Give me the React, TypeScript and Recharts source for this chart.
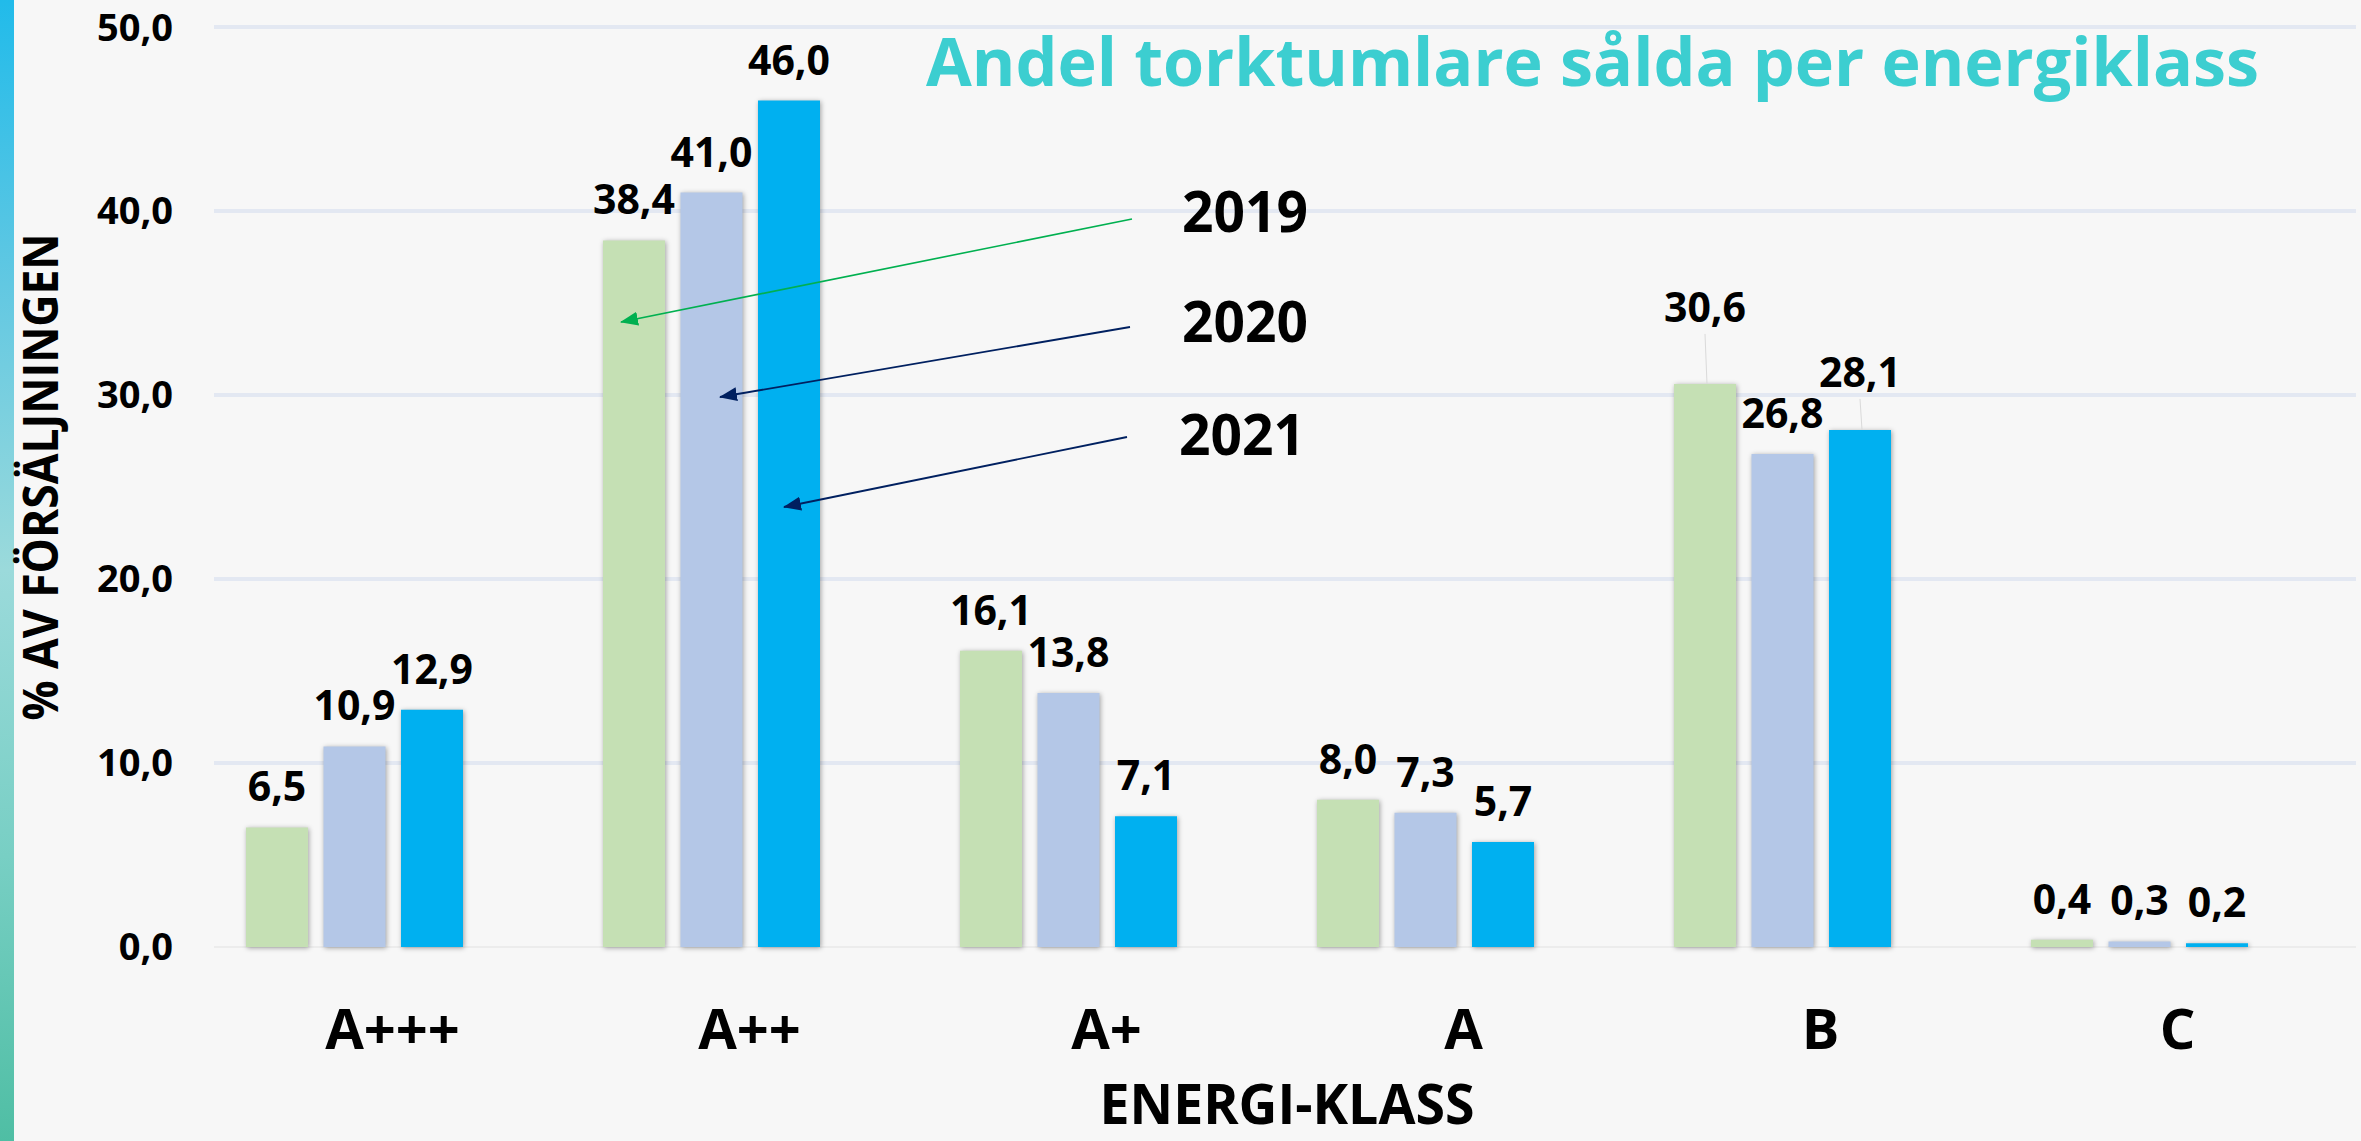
import React from 'react';
import { BarChart, Bar, XAxis, YAxis, CartesianGrid, LabelList } from 'recharts';

const categories = ['A+++', 'A++', 'A+', 'A', 'B', 'C'];
const share2019 = [6.5, 38.4, 16.1, 8.0, 30.6, 0.4];
const share2020 = [10.9, 41.0, 13.8, 7.3, 26.8, 0.3];
const share2021 = [12.9, 46.0, 7.1, 5.7, 28.1, 0.2];
const yTicks = [0, 10, 20, 30, 40, 50];
const years = ['2019', '2020', '2021'];

// labels that were dragged up in the original (with a leader line)
const labelLift: Record<string, Record<string, number>> = {
    y2019: { B: 36 },
    y2021: { B: 17 },
};

const data = categories.map((klass, i) => ({
    klass,
    y2019: share2019[i],
    y2020: share2020[i],
    y2021: share2021[i],
}));

const FONT = '"Open Sans", "Noto Sans", sans-serif';
const fmt = (v: number) => v.toFixed(1).replace('.', ',');

const seriesValues: Record<string, number[]> = { y2019: share2019, y2020: share2020, y2021: share2021 };

const makeLabel = (key: string) => (props: any) => {
    const vb = props.viewBox || {};
    const x = vb.x ?? props.x;
    const y = vb.y ?? props.y;
    const w = vb.width ?? props.width;
    const idx = seriesValues[key].indexOf(Number(props.value));
    const lift = (labelLift[key] && labelLift[key][categories[idx]]) || 0;
    const cx = x + w / 2;
    const base = y - 26 - lift;
    return (
        <g>
            {lift > 0 && <line x1={cx} y1={base + 12} x2={cx + 2} y2={y} stroke="#DADADA" strokeWidth={1} />}
            <text x={cx} y={base} textAnchor="middle" fontFamily={FONT} fontWeight={700} fontSize={41} fill="#000">
                {fmt(Number(props.value))}
            </text>
        </g>
    );
};

const ClassTick = (p: any) => (
    <text x={p.x + 38} y={p.y + 102} textAnchor="middle" fontFamily={FONT} fontWeight={700} fontSize={56} fill="#000">
        {p.payload.value}
    </text>
);

const gridLine = (p: any) => (
    <line
        key={p.key}
        x1={p.x1}
        x2={p.x2}
        y1={p.y1}
        y2={p.y2}
        stroke={p.y1 > 900 ? '#ECECEC' : '#E3E8F2'}
        strokeWidth={p.y1 > 900 ? 2 : 4}
    />
);

export default function App() {
    return (
        <div style={{ position: 'relative', width: 2361, height: 1141, background: '#F7F7F7', overflow: 'hidden' }}>
            <style>{`
                body { margin: 0; }
                .recharts-bar-rectangle .recharts-rectangle { filter: drop-shadow(1px 1px 2.5px rgba(0,0,0,0.35)); }
            `}</style>

            {/* coloured strip on the left edge */}
            <div
                style={{
                    position: 'absolute', left: 0, top: 0, width: 14, height: 1141,
                    background: 'linear-gradient(to bottom, #21BBEA 0%, #62C8E2 25%, #9BDADB 50%, #78CFC4 75%, #4FBEA4 100%)',
                }}
            />

            <BarChart
                width={2361}
                height={1141}
                data={data}
                margin={{ top: 27, right: 5, bottom: 44, left: 154 }}
                barSize={62}
                barGap={15.5}
            >
                <CartesianGrid vertical={false} horizontal={gridLine} />
                <XAxis
                    dataKey="klass"
                    height={150}
                    padding={{ left: -38, right: 38 }}
                    axisLine={false}
                    tickLine={false}
                    tickSize={0}
                    tickMargin={0}
                    interval={0}
                    tick={<ClassTick />}
                />
                <YAxis
                    width={60}
                    domain={[0, 50]}
                    ticks={yTicks}
                    interval={0}
                    axisLine={false}
                    tickLine={false}
                    tickSize={0}
                    tickMargin={41}
                    tickFormatter={fmt}
                    tick={{ fontSize: 38, fontWeight: 700, fill: '#000', fontFamily: FONT }}
                />
                <Bar dataKey="y2019" fill="#C5E0B4" isAnimationActive={false}>
                    <LabelList dataKey="y2019" content={makeLabel('y2019')} />
                </Bar>
                <Bar dataKey="y2020" fill="#B4C7E7" isAnimationActive={false}>
                    <LabelList dataKey="y2020" content={makeLabel('y2020')} />
                </Bar>
                <Bar dataKey="y2021" fill="#00B0F0" isAnimationActive={false}>
                    <LabelList dataKey="y2021" content={makeLabel('y2021')} />
                </Bar>
            </BarChart>

            {/* titles and the year annotations */}
            <svg width={2361} height={1141} style={{ position: 'absolute', left: 0, top: 0, pointerEvents: 'none' }}>
                <defs>
                    <marker id="headGreen" markerUnits="userSpaceOnUse" markerWidth={18} markerHeight={14} refX={17} refY={7} orient="auto">
                        <path d="M0,0 L18,7 L0,14 z" fill="#00B050" />
                    </marker>
                    <marker id="headNavy" markerUnits="userSpaceOnUse" markerWidth={18} markerHeight={14} refX={17} refY={7} orient="auto">
                        <path d="M0,0 L18,7 L0,14 z" fill="#002060" />
                    </marker>
                </defs>

                <text x={926} y={86} fontFamily={FONT} fontWeight={700} fontSize={66} fill="#3CCED0"
                    textLength={1333} lengthAdjust="spacingAndGlyphs">
                    Andel torktumlare sålda per energiklass
                </text>

                <text x={58} y={477} transform="rotate(-90, 58, 477)" textAnchor="middle" fontFamily={FONT}
                    fontWeight={700} fontSize={49} fill="#000" textLength={487} lengthAdjust="spacingAndGlyphs">
                    % AV FÖRSÄLJNINGEN
                </text>

                <text x={1287} y={1124} textAnchor="middle" fontFamily={FONT} fontWeight={700} fontSize={56} fill="#000"
                    textLength={375} lengthAdjust="spacingAndGlyphs">
                    ENERGI-KLASS
                </text>

                <line x1={1132} y1={219} x2={621} y2={322} stroke="#00B050" strokeWidth={1.6} markerEnd="url(#headGreen)" />
                <line x1={1130} y1={327} x2={720} y2={397} stroke="#002060" strokeWidth={1.8} markerEnd="url(#headNavy)" />
                <line x1={1127} y1={437} x2={784} y2={507} stroke="#002060" strokeWidth={1.8} markerEnd="url(#headNavy)" />

                {years.map((yr, i) => (
                    <text key={yr} x={[1182, 1182, 1179][i]} y={[232, 342, 455][i]} fontFamily={FONT} fontWeight={700}
                        fontSize={58} fill="#000" textLength={126} lengthAdjust="spacingAndGlyphs">
                        {yr}
                    </text>
                ))}
            </svg>
        </div>
    );
}
